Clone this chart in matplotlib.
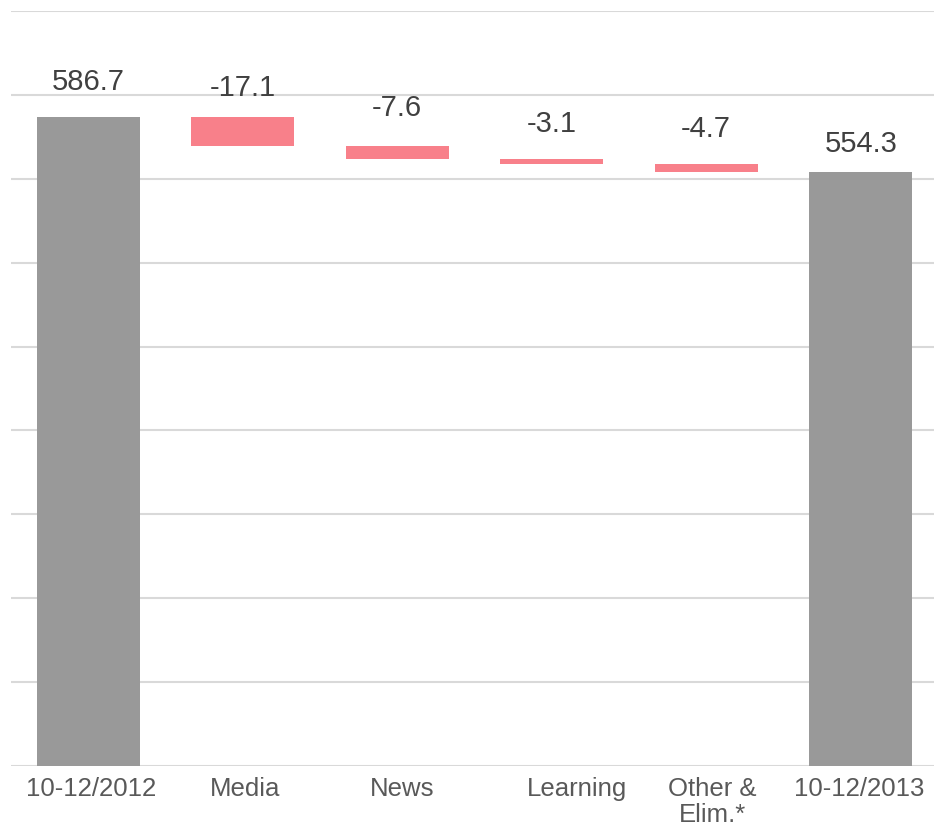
import numpy as np
import matplotlib.pyplot as plt
from matplotlib.transforms import ScaledTranslation

plt.rcParams['font.family'] = ['Liberation Sans', 'DejaVu Sans']

categories = ['10-12/2012', 'Media', 'News', 'Learning', 'Other &\nElim.*', '10-12/2013']
start_value = 586.7
changes = [-17.1, -7.6, -3.1, -4.7]
end_value = 554.3
labels = ['586.7', '-17.1', '-7.6', '-3.1', '-4.7', '554.3']

# waterfall geometry
bottoms = [200.0]
heights = [start_value - 200.0]
level = start_value
for c in changes:
    bottoms.append(level + c)
    heights.append(-c)
    level += c
bottoms.append(200.0)
heights.append(end_value - 200.0)
colors = ['#999999'] + ['#f8808a'] * len(changes) + ['#999999']

fig = plt.figure(figsize=(9.34, 8.29), dpi=100)
ax = fig.add_axes([11 / 934, 62 / 829, 927 / 934, 755 / 829])

x = np.arange(len(categories))
ax.bar(x, heights, bottom=bottoms, width=0.667, color=colors, zorder=3)

tops = [b + h for b, h in zip(bottoms, heights)]
offsets = [36, 30, 39, 36, 36, 29]
for xi, t, lab, off in zip(x, tops, labels, offsets):
    ax.annotate(lab, (xi, t), xytext=(0, off * 0.72), textcoords='offset points',
                ha='center', va='center', fontsize=21, color='#404040', zorder=4)

ax.set_ylim(200, 650)
ax.set_xlim(-0.5, len(categories) - 0.5)
ax.set_yticks(np.arange(200, 651, 50))
ax.yaxis.grid(True, color='#d9d9d9', linewidth=1.5, zorder=0)
ax.tick_params(axis='y', left=False, labelleft=False)
ax.tick_params(axis='x', length=0, pad=7)
ax.set_xticks(x)
ax.set_xticklabels(categories, fontsize=18.5, color='#595959', linespacing=1.1)
for s in ax.spines.values():
    s.set_visible(False)

# small horizontal nudges to the tick labels, as in the original
nudges = [3, 2, 5, 25, 6, -2]
for tl, dx in zip(ax.get_xticklabels(), nudges):
    tl.set_transform(tl.get_transform() + ScaledTranslation(dx / 100, 0, fig.dpi_scale_trans))

fig.savefig('out.png', dpi=100, facecolor='white')
